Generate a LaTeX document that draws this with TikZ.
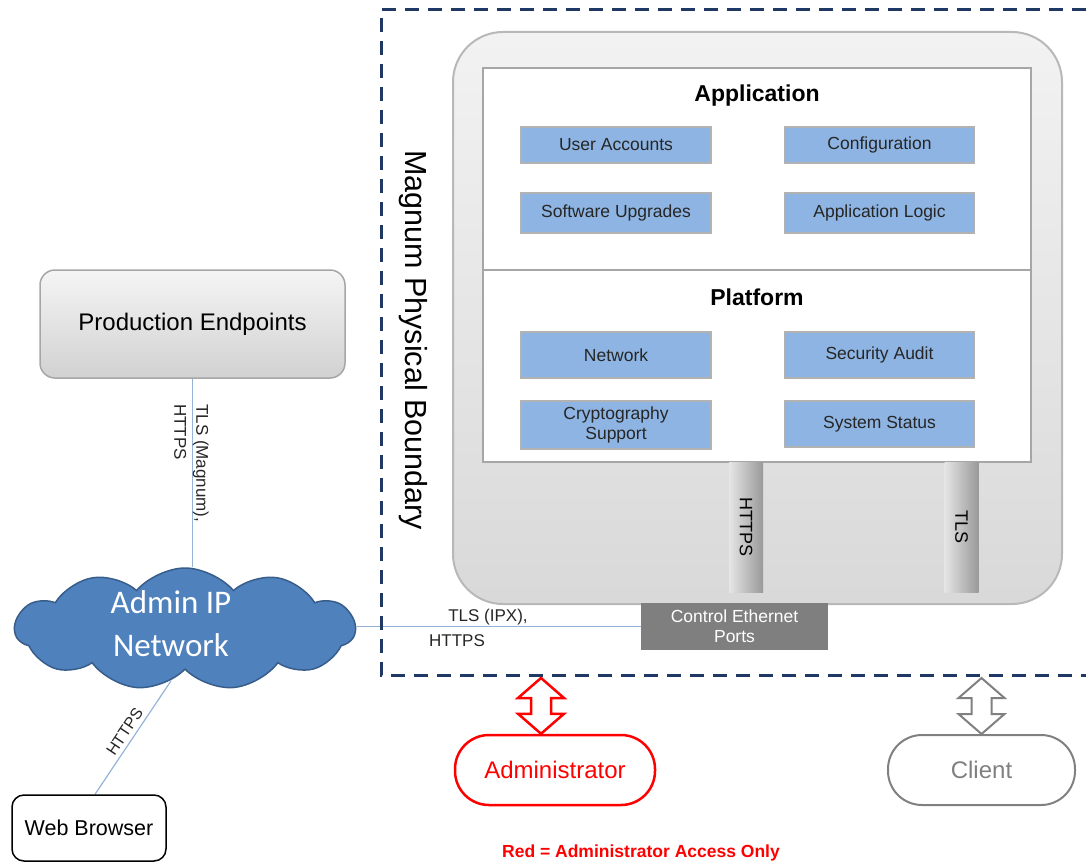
\documentclass[tikz,border=0pt]{standalone}
\usepackage{fontspec}
\setmainfont{Liberation Sans}
\newfontfamily\cloudfont{Carlito}
\usetikzlibrary{shapes.symbols,calc,backgrounds}
\definecolor{navy}{HTML}{1F3864}
\definecolor{boxblue}{HTML}{8DB4E2}
\definecolor{cloudblue}{HTML}{4F81BD}
\definecolor{cloudedge}{HTML}{385D8A}
\definecolor{linkblue}{HTML}{95B3D7}
\definecolor{portgray}{HTML}{7F7F7F}
\definecolor{edgegray}{HTML}{A6A6A6}
\newcommand{\fsz}[2]{\fontsize{#1}{#2}\selectfont}
\newcommand{\blockarrow}[3]{%
  \draw[#1, fill=white, line join=miter] (#2) -- ($(#2)+(23,20)$) -- ($(#2)+(10,20)$)
    -- ($(#3)+(10,-20)$) -- ($(#3)+(23,-20)$) -- (#3) -- ($(#3)+(-23,-20)$)
    -- ($(#3)+(-10,-20)$) -- ($(#2)+(-10,20)$) -- ($(#2)+(-23,20)$) -- cycle;}
\begin{document}
\begin{tikzpicture}[x=1pt, y=-1pt,
    module/.style={draw=black!30, line width=1.5pt, fill=boxblue, minimum width=190pt,
      text=black!85, font=\fsz{17.5}{20}, align=center, inner sep=1pt},
    pillar/.style={minimum width=34pt, minimum height=130pt, left color=black!10, right color=black!40},
    label/.style={font=\fsz{17}{22}, inner sep=0pt, text=black!85},
    link/.style={linkblue, line width=1.2pt}]
  \useasboundingbox (0,0) rectangle (1086,867);

  \draw[navy, line width=3pt, dash pattern=on 14pt off 9pt] (1086,10) -- (381,10) -- (381,675) -- (1086,675);
  \node[rotate=-90, font=\fsz{30.5}{30}] (bndlabel) at (413,340) {Magnum Physical Boundary};

  \node[draw=black!28, line width=2pt, rounded corners=50pt, top color=black!5, bottom color=black!15,
    minimum width=609pt, minimum height=572pt] (chassis) at (757.5,318) {};
  \node[draw=edgegray, line width=2pt, fill=white, minimum width=548pt, minimum height=202pt] (appl) at (757,169) {};
  \node[draw=edgegray, line width=2pt, fill=white, minimum width=548pt, minimum height=192pt] (plat) at (757,366) {};
  \node[font=\bfseries\fsz{23}{24}] (apptitle) at (757,96) {Application};
  \node[font=\bfseries\fsz{23}{24}] (plattitle) at (757,297) {Platform};

  \node[module, minimum height=36pt] (useracc) at (616,145) {User Accounts};
  \node[module, minimum height=36pt] (config) at (879.5,145) {Configuration};
  \node[module, minimum height=40pt] (swupg) at (616,213) {Software Upgrades};
  \node[module, minimum height=40pt] (applogic) at (879.5,213) {Application Logic};
  \node[module, minimum height=46pt] (network) at (616,355) {Network};
  \node[module, minimum height=46pt] (secaudit) at (879.5,355) {Security Audit};
  \node[module, minimum height=48pt] (crypto) at (616,425) {Cryptography\\Support};
  \node[module, minimum height=46pt] (sysstat) at (879.5,424) {System Status};

  \node[pillar] (httpspil) at (746,527) {};
  \node[rotate=-90, font=\fsz{18}{22}] (httpstxt) at (httpspil) {HTTPS};
  \node[pillar] (tlspil) at (961.5,527) {};
  \node[rotate=-90, font=\fsz{18}{22}] (tlstxt) at (tlspil) {TLS};

  \node[fill=portgray, text=white, font=\fsz{17.5}{20}, align=center, minimum width=187pt,
    minimum height=47pt, inner sep=1pt] (ports) at (734.5,626.5) {Control Ethernet\\Ports};

  \node[draw=edgegray, line width=1.5pt, rounded corners=15pt, top color=black!4, bottom color=black!18,
    minimum width=305pt, minimum height=108pt, font=\fsz{24}{24}] (prod) at (192.5,324) {Production Endpoints};

  \node[cloud, cloud puffs=11, cloud puff arc=100, aspect=3, fill=cloudblue, draw=cloudedge, line width=1.5pt,
    minimum width=340pt, minimum height=122pt, inner sep=0pt] (cloud) at (185,629) {};
  \node[text=white, font=\cloudfont\fsz{33}{43}, align=center] (cloudtxt) at (171,624) {Admin IP\\Network};

  \node[draw, line width=1.5pt, rounded corners=12pt, fill=white, minimum width=154pt,
    minimum height=66pt, font=\fsz{21.5}{21}] (web) at (89,828) {Web Browser};

  \node[draw=red, text=red, line width=2.5pt, rounded corners=34pt, minimum width=200pt,
    minimum height=70pt, font=\fsz{24}{23}] (admin) at (555,770) {Administrator};
  \node[draw=black!50, text=black!50, line width=2pt, rounded corners=34pt, minimum width=187pt,
    minimum height=70pt, font=\fsz{24}{23}] (client) at (981.5,770) {Client};
  \node[text=red, font=\bfseries\fsz{17.5}{17}] (legend) at (641,853) {Red = Administrator Access Only};

  \begin{scope}[on background layer]
    \draw[link] (prod.south) -- (cloud.north -| prod.south);
    \draw[link] (ports.west -| cloud.east) -- (ports.west);
    \draw[link] (cloud.255) -- ([xshift=6pt]web.north)
      node[midway, sloped, above=3pt, font=\fsz{16}{17}, text=black!85, inner sep=1pt] (webhttps) {HTTPS};
  \end{scope}
  \node[label, rotate=-90, anchor=north west, align=left] (magnumlbl) at (209,404) {TLS (Magnum),\\HTTPS};
  \node[label] (ipxlbl) at (488,617) {TLS (IPX),};
  \node[label] (ipxhttps) at (457,641) {HTTPS};

  \coordinate (admtop) at (541,678);
  \coordinate (admbot) at (admtop |- admin.north);
  \blockarrow{red, line width=2.5pt}{admtop}{admbot}
  \coordinate (cltop) at (981.5,678);
  \coordinate (clbot) at (cltop |- client.north);
  \blockarrow{black!50, line width=2pt}{cltop}{clbot}
\end{tikzpicture}
\end{document}
